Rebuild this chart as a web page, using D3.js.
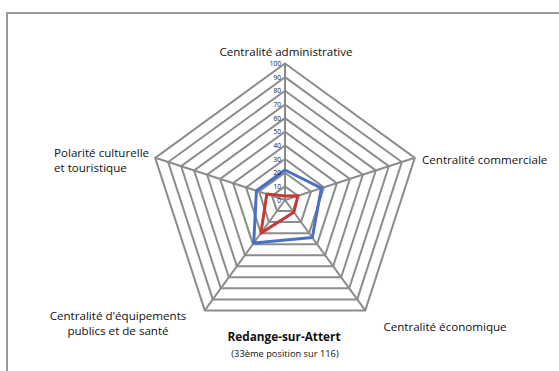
<!DOCTYPE html>
<html>
<head>
<meta charset="utf-8">
<script src="https://cdn.jsdelivr.net/npm/d3@7"></script>
<style>
  body { margin: 0; background: #fff; }
  text { font-family: "Open Sans", sans-serif; fill: #111; }
</style>
</head>
<body>
<svg width="559" height="371"></svg>
<script>
// axes of the radar, clockwise from the top
var axes = ["Centralité administrative", "Centralité commerciale", "Centralité économique",
            "Centralité d'équipements publics et de santé", "Polarité culturelle et touristique"];
var blueValues = [22, 28, 34, 39, 22];
var redValues = [3, 10, 11, 30, 14];
var ticks = [0, 10, 20, 30, 40, 50, 60, 70, 80, 90, 100];

var svg = d3.select("svg");
var cx = 285, cy = 200;

var rScale = d3.scaleLinear().domain([0, 100]).range([0, 136.5]);
var angleScale = d3.scaleLinear().domain([0, axes.length]).range([0, 2 * Math.PI]);

function point(i, v) {
    var a = angleScale(i);
    return [cx + rScale(v) * Math.sin(a), cy - rScale(v) * Math.cos(a)];
}

// frame
svg.append("path")
    .attr("d", "M7,371 V13 H559")
    .attr("fill", "none")
    .attr("stroke", "#9a9a9a")
    .attr("stroke-width", 2);

// rings
ticks.slice(1).forEach(function(t) {
    svg.append("polygon")
        .attr("points", axes.map(function(d, i) { return point(i, t).join(","); }).join(" "))
        .attr("fill", "none")
        .attr("stroke", "#8c8c8c")
        .attr("stroke-width", 2);
});

// spokes
axes.forEach(function(d, i) {
    var p = point(i, 100);
    svg.append("line")
        .attr("x1", cx).attr("y1", cy)
        .attr("x2", p[0]).attr("y2", p[1])
        .attr("stroke", "#8c8c8c")
        .attr("stroke-width", 2);
});

// series
var line = d3.line().curve(d3.curveLinearClosed);
[[blueValues, "#4a6fc7"], [redValues, "#c43a36"]].forEach(function(s) {
    svg.append("path")
        .attr("d", line(s[0].map(function(v, i) { return point(i, v); })))
        .attr("fill", "none")
        .attr("stroke", s[1])
        .attr("stroke-width", 3)
        .attr("stroke-linejoin", "round");
});

// tick labels on the vertical axis
svg.selectAll(".tick")
    .data(ticks)
    .enter()
    .append("text")
    .attr("class", "tick")
    .attr("x", cx - 4)
    .attr("y", function(d) { return cy - rScale(d) + 2.5; })
    .attr("text-anchor", "end")
    .style("font-size", "6.5px")
    .text(function(d) { return d; });

// axis labels
var labels = [
    {lines: ["Centralité administrative"], x: 286, y: 56, anchor: "middle"},
    {lines: ["Centralité commerciale"], x: 422, y: 164, anchor: "start"},
    {lines: ["Centralité économique"], x: 445, y: 331, anchor: "middle"},
    {lines: ["Centralité d'équipements", "publics et de santé"], x: 118, y: 320, anchor: "middle"},
    {lines: ["Polarité culturelle", "et touristique"], x: 54, y: 157, anchor: "start"}
];
labels.forEach(function(l) {
    var t = svg.append("text")
        .attr("x", l.x).attr("y", l.y)
        .attr("text-anchor", l.anchor)
        .style("font-size", "11.6px");
    l.lines.forEach(function(s, k) {
        t.append("tspan").attr("x", l.x).attr("dy", k ? 15 : 0).text(s);
    });
});

// caption
svg.append("text")
    .attr("x", 284).attr("y", 341)
    .attr("text-anchor", "middle")
    .style("font-size", "11.8px")
    .style("font-weight", "bold")
    .text("Redange-sur-Attert");
svg.append("text")
    .attr("x", 285).attr("y", 357)
    .attr("text-anchor", "middle")
    .style("font-size", "9.3px")
    .text("(33ème position sur 116)");
</script>
</body>
</html>
